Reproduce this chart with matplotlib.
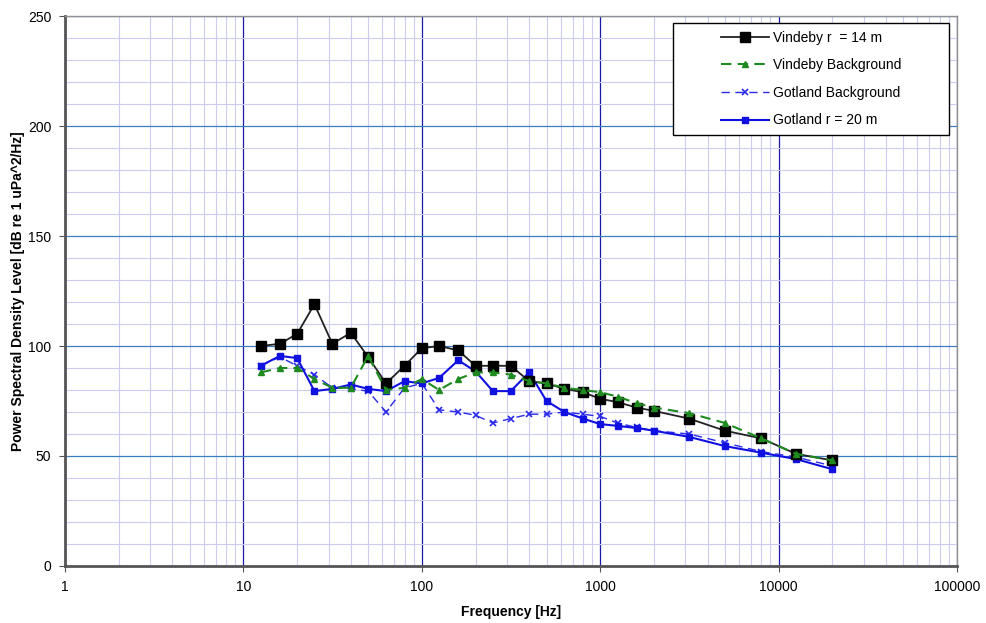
import numpy as np
import matplotlib
matplotlib.use("Agg")
import matplotlib.pyplot as plt
import matplotlib.ticker as ticker
from matplotlib.patches import Rectangle

plt.rcParams['font.family'] = ['Liberation Sans', 'DejaVu Sans']

freq = [12.5, 16, 20, 25, 31.5, 40, 50, 63, 80, 100, 125, 160, 200, 250, 315,
        400, 500, 630, 800, 1000, 1250, 1600, 2000, 3150, 5000, 8000, 12500, 20000]

vindeby_14m = [100, 101, 105.5, 119, 101, 106, 95, 83, 91, 99, 100, 98, 91, 91, 91,
               84, 83, 80.5, 79, 76, 74.5, 72, 70.5, 67, 61.5, 58, 51, 48]
vindeby_bg = [88, 90, 90, 85, 81, 81, 95.5, 80, 81, 85, 80, 85, 88, 88, 87,
              84, 83, 81, 80, 79, 77, 74, 72, 69.5, 65, 58, 51, 48]
gotland_bg = [91, 95, 91, 87, 81, 80.5, 79.5, 70, 81, 83, 71, 70, 68.5, 65, 67,
              69, 69, 70, 69, 68, 65, 63, 61.5, 60, 56, 52, 49.5, 45.5]
gotland_20m = [91, 95.5, 94.5, 79.5, 80.5, 82.5, 80.5, 79.5, 84, 83, 85.5, 93.5, 88.5, 79.5, 79.5,
               88, 75, 70, 67, 64.5, 63.7, 62.7, 61.5, 58.7, 54.5, 51.5, 48.6, 44]

fig = plt.figure(figsize=(9.87, 6.23), dpi=100)
ax = fig.add_axes([0.0659, 0.0915, 0.9037, 0.8828])

ax.plot(freq, vindeby_14m, '-', color='#222222', lw=1.3, marker='s', ms=7,
        mfc='black', mec='black', label='Vindeby r  = 14 m', zorder=4)
ax.plot(freq, vindeby_bg, '--', color='#1f8a1f', lw=1.5, dashes=(5, 3), marker='^', ms=5,
        mfc='#1f8a1f', mec='#1f8a1f', label='Vindeby Background', zorder=5)
ax.plot(freq, gotland_bg, '--', color='#2a2ae8', lw=1.0, dashes=(6, 4), marker='x', ms=4,
        mew=1.2, label='Gotland Background', zorder=3)
ax.plot(freq, gotland_20m, '-', color='#1010e0', lw=1.5, marker='s', ms=4.5,
        mfc='#1010e0', mec='#1010e0', label='Gotland r = 20 m', zorder=3)

ax.set_xscale('log')
ax.set_xlim(1, 100000)
ax.set_ylim(0, 250)
ax.xaxis.set_major_locator(ticker.LogLocator(base=10, numticks=10))
ax.xaxis.set_minor_locator(ticker.LogLocator(base=10, subs=np.arange(2, 10), numticks=10))
ax.xaxis.set_major_formatter(ticker.FormatStrFormatter('%g'))
ax.xaxis.set_minor_formatter(ticker.NullFormatter())
ax.yaxis.set_major_locator(ticker.MultipleLocator(50))
ax.yaxis.set_minor_locator(ticker.MultipleLocator(10))

ax.grid(which='minor', color='#cdcdf4', lw=0.8)
ax.grid(which='major', axis='x', color='#1a1aa8', lw=0.9)
ax.grid(which='major', axis='y', color='#3b7fbf', lw=0.9)
ax.set_axisbelow(True)

for side in ['top', 'right']:
    ax.spines[side].set_color('#909090')
    ax.spines[side].set_linewidth(1.0)
for side in ['left', 'bottom']:
    ax.spines[side].set_color('#555555')
    ax.spines[side].set_linewidth(2.0)

ax.tick_params(which='major', direction='out', length=4, color='#555555', labelsize=10, pad=6)
ax.tick_params(which='minor', length=0)

ax.set_xlabel('Frequency [Hz]', fontsize=10, fontweight='bold', labelpad=8)
ax.set_ylabel('Power Spectral Density Level [dB re 1 uPa^2/Hz]', fontsize=10, fontweight='bold', labelpad=2)

# legend box (wide white frame like the spreadsheet original)
box = Rectangle((0.682, 0.784), 0.309, 0.203, transform=ax.transAxes,
                facecolor='white', edgecolor='black', lw=1.0, zorder=10)
ax.add_patch(box)
leg = ax.legend(loc='center', bbox_to_anchor=(0.8365, 0.8855), fontsize=10,
                frameon=False, handlelength=3.4, labelspacing=0.98,
                borderpad=0.0, handletextpad=0.3)
leg.set_zorder(11)

fig.savefig('out.png', dpi=100)
